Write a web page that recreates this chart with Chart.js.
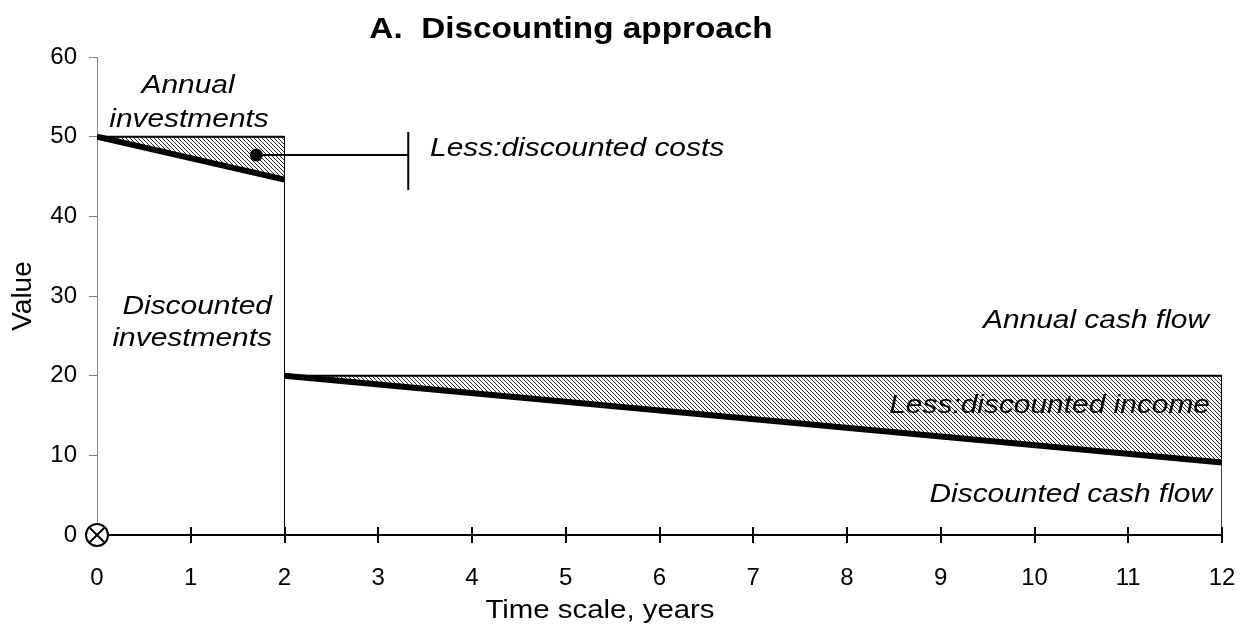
<!DOCTYPE html>
<html>
<head>
<meta charset="utf-8">
<script src="https://cdn.jsdelivr.net/npm/chart.js@4.4.0/dist/chart.umd.min.js"></script>
<style>
    html, body { margin: 0; padding: 0; background: #fff; }
</style>
</head>
<body>
<canvas id="myChart" width="1248" height="630"></canvas>
<script>
// axis ticks
const yearTicks = [0, 1, 2, 3, 4, 5, 6, 7, 8, 9, 10, 11, 12];
const valueTicks = [0, 10, 20, 30, 40, 50, 60];

// investment phase, years 0-2
const investYears = [0, 2];
const annualInvestValues = [50, 50];
const discountedInvestValues = [50, 44.6];

// operating phase, years 2-12
const cashYears = [2, 12];
const annualCashValues = [20, 20];
const discountedCashValues = [20, 9.1];

// "Less:discounted costs" callout
const calloutYears = [1.7, 3.32];
const calloutValue = 47.7;
const bracketValues = [43.3, 50.6];

const FONT = "'Liberation Sans', Arial, sans-serif";

function pts(xs, ys) {
    return xs.map((x, i) => ({ x: x, y: ys[i] }));
}

// closed shape: annual line forward, discounted line back
function band(xs, top, bottom) {
    const fwd = pts(xs, top);
    const back = pts(xs, bottom).reverse();
    return fwd.concat(back, [fwd[0]]);
}

const canvas = document.getElementById('myChart');
const ctx = canvas.getContext('2d');

function makeHatch() {
    const c = document.createElement('canvas');
    c.width = 4;
    c.height = 4;
    const g = c.getContext('2d');
    g.fillStyle = '#fff';
    g.fillRect(0, 0, 4, 4);
    g.strokeStyle = '#2a2a2a';
    g.lineWidth = 1;
    g.beginPath();
    g.moveTo(0, 0); g.lineTo(4, 4);
    g.moveTo(-2, 2); g.lineTo(2, 6);
    g.moveTo(2, -2); g.lineTo(6, 2);
    g.stroke();
    return ctx.createPattern(c, 'repeat');
}
const hatch = makeHatch();

const lineBase = { showLine: true, pointRadius: 0, borderColor: '#000', fill: false, tension: 0 };

const datasets = [
    // origin marker
    { data: [{ x: 0, y: 0 }], pointStyle: 'crossRot', pointRadius: 10, borderColor: '#000', borderWidth: 2, clip: false },
    { data: [{ x: 0, y: 0 }], pointStyle: 'circle', pointRadius: 11, backgroundColor: '#fff', borderColor: '#000', borderWidth: 2, clip: false },
    // callout
    { data: [{ x: calloutYears[0], y: calloutValue }], pointRadius: 6.5, backgroundColor: '#000', borderColor: '#000', borderWidth: 0 },
    Object.assign({}, lineBase, { data: calloutYears.map(x => ({ x: x, y: calloutValue })), borderWidth: 2 }),
    Object.assign({}, lineBase, { data: bracketValues.map(v => ({ x: calloutYears[1], y: v })), borderWidth: 2 }),
    // discounted lines (thick)
    Object.assign({}, lineBase, { data: pts(investYears, discountedInvestValues), borderWidth: 6 }),
    Object.assign({}, lineBase, { data: pts(cashYears, discountedCashValues), borderWidth: 6 }),
    // annual lines
    Object.assign({}, lineBase, { data: pts(investYears, annualInvestValues), borderWidth: 2 }),
    Object.assign({}, lineBase, { data: pts(cashYears, annualCashValues), borderWidth: 2 }),
    // drops to the axis
    Object.assign({}, lineBase, { data: [{ x: investYears[1], y: annualInvestValues[1] }, { x: investYears[1], y: 0 }], borderWidth: 1 }),
    Object.assign({}, lineBase, { data: [{ x: cashYears[1], y: annualCashValues[1] }, { x: cashYears[1], y: 0 }], borderWidth: 1.5 }),
    // hatched areas
    Object.assign({}, lineBase, { data: band(investYears, annualInvestValues, discountedInvestValues), borderWidth: 1, fill: 'shape', backgroundColor: hatch }),
    Object.assign({}, lineBase, { data: band(cashYears, annualCashValues, discountedCashValues), borderWidth: 1, fill: 'shape', backgroundColor: hatch })
];

// text on the chart
const notes = [
    { text: 'Annual', x: 188, y: 93, align: 'center' },
    { text: 'investments', x: 189, y: 127, align: 'center' },
    { text: 'Less:discounted costs', x: 430, y: 156, align: 'left' },
    { text: 'Discounted', x: 272, y: 314, align: 'right' },
    { text: 'investments', x: 272, y: 346, align: 'right' },
    { text: 'Annual cash flow', x: 1209, y: 328, align: 'right' },
    { text: 'Less:discounted income', x: 1210, y: 413, align: 'right' },
    { text: 'Discounted cash flow', x: 1212, y: 502, align: 'right' }
];

function drawText(c, text, x, y, align, font, stretch) {
    c.save();
    c.translate(x, y);
    c.scale(stretch, 1);
    c.font = font;
    c.fillStyle = '#000';
    c.textAlign = align;
    c.textBaseline = 'alphabetic';
    c.fillText(text, 0, 0);
    c.restore();
}

const textPlugin = {
    id: 'textPlugin',
    afterDraw(chart) {
        const c = chart.ctx;
        const xs = chart.scales.x;
        const bottom = chart.chartArea.bottom;
        // ticks of the x axis also reach into the plot
        c.save();
        c.strokeStyle = '#000';
        c.lineWidth = 2;
        c.beginPath();
        yearTicks.slice(1).forEach(v => {
            const px = Math.round(xs.getPixelForValue(v));
            c.moveTo(px, bottom - 8);
            c.lineTo(px, bottom);
        });
        c.stroke();
        c.restore();

        notes.forEach(n => drawText(c, n.text, n.x, n.y, n.align, 'italic 26px ' + FONT, 1.15));
        drawText(c, 'A.  Discounting approach', 571, 38, 'center', 'bold 30px ' + FONT, 1.11);
        drawText(c, 'Time scale, years', 600, 618, 'center', '26px ' + FONT, 1.13);
    }
};

new Chart(canvas, {
    type: 'scatter',
    data: { datasets: datasets },
    options: {
        responsive: false,
        animation: false,
        devicePixelRatio: 1,
        layout: { padding: { top: 57, right: 26, bottom: 0, left: 0 } },
        plugins: {
            legend: { display: false },
            tooltip: { enabled: false },
            title: { display: false }
        },
        scales: {
            x: {
                type: 'linear',
                min: 0,
                max: 12,
                afterBuildTicks: (scale) => { scale.ticks = yearTicks.map(v => ({ value: v })); },
                afterFit: (scale) => {
                    scale.height = 95;
                    scale.paddingLeft = 0;
                    scale.paddingRight = 0;
                },
                border: { color: '#000', width: 2 },
                grid: { drawOnChartArea: false, drawTicks: true, tickLength: 8, color: '#000', lineWidth: 2 },
                ticks: { color: '#000', font: { family: FONT, size: 24 }, padding: 21 }
            },
            y: {
                type: 'linear',
                min: 0,
                max: 60,
                afterBuildTicks: (scale) => { scale.ticks = valueTicks.map(v => ({ value: v })); },
                afterFit: (scale) => {
                    scale.width = 97;
                    scale.paddingTop = 0;
                    scale.paddingBottom = 0;
                },
                border: { color: '#808080', width: 1 },
                grid: { drawOnChartArea: false, drawTicks: true, tickLength: 8, color: '#808080', lineWidth: 1 },
                ticks: { color: '#000', font: { family: FONT, size: 24 }, padding: 12 },
                title: { display: true, text: 'Value', color: '#000', font: { family: FONT, size: 28 }, padding: { top: 6, bottom: 0 } }
            }
        }
    },
    plugins: [textPlugin]
});
</script>
</body>
</html>
